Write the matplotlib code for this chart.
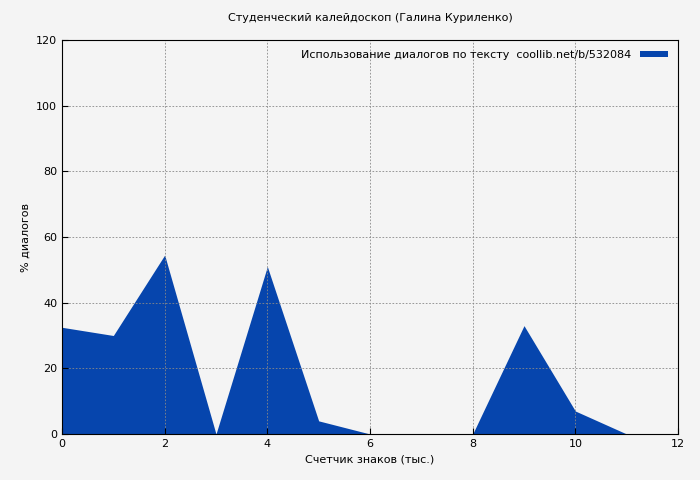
import matplotlib
matplotlib.use("Agg")
import matplotlib.pyplot as plt

x = [0, 1, 2, 3, 4, 5, 6, 7, 8, 9, 10, 11, 12]
y = [32.5, 30, 54.5, 0, 51, 4, 0, 0, 0, 33, 7, 0, 0]
xticks = [0, 2, 4, 6, 8, 10, 12]
yticks = [0, 20, 40, 60, 80, 100, 120]

plt.rcParams['font.family'] = ['DejaVu Sans']
fig = plt.figure(figsize=(7, 4.8), dpi=100, facecolor='#f4f4f4')
ax = fig.add_axes([62/700, 1-434/480, 616/700, 394/480])
ax.set_facecolor('#f4f4f4')
ax.fill_between(x, y, 0, color='#0645ad', lw=0, label='Использование диалогов по тексту  coollib.net/b/532084')
ax.set_xlim(0, 12)
ax.set_ylim(0, 120)
ax.set_xticks(xticks)
ax.set_yticks(yticks)
ax.grid(True, color='#888888', linestyle=(0, (2, 2)), lw=0.6)
ax.tick_params(labelsize=8, direction='in', length=4)
for s in ax.spines.values():
    s.set_color('black')
ax.set_title('Студенческий калейдоскоп (Галина Куриленко)', fontsize=8, pad=14)
ax.set_xlabel('Счетчик знаков (тыс.)', fontsize=8)
ax.set_ylabel('% диалогов', fontsize=8)
leg = ax.legend(loc='upper right', fontsize=8, frameon=False, markerfirst=False,
                handlelength=2.5, handleheight=0.5)
fig.savefig('out.png', dpi=100, facecolor=fig.get_facecolor())
